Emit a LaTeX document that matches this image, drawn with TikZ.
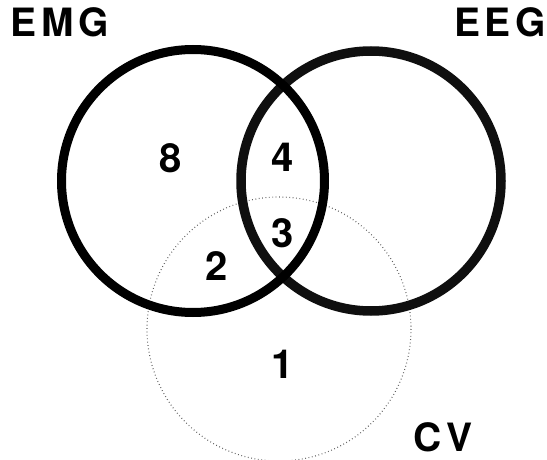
\documentclass[tikz,border=0pt]{standalone}
\usepackage{fontspec}
\setmainfont{TeX Gyre Heros}
\newfontfamily\setfont[LetterSpace=12]{TeX Gyre Heros}
\usetikzlibrary{calc}
\definecolor{venndark}{RGB}{15,15,15}
\definecolor{venngrey}{RGB}{95,95,95}

\tikzset{
  setline/.style={line width=9pt},
  setname/.style={font=\setfont\bfseries\fontsize{39}{39}\selectfont},
  count/.style={font=\bfseries\fontsize{40}{40}\selectfont}
}

\begin{document}
\begin{tikzpicture}[x=1pt,y=-1pt]
  \useasboundingbox (0,0) rectangle (547,460);
  \coordinate (M) at (193,181);
  \coordinate (E) at (371,181);
  \coordinate (V) at (279,329);

  \draw[venngrey,line width=1.1pt,dash pattern=on 0.8pt off 2.6pt] (V) circle[radius=132];
  \draw[venndark,setline,line width=9.5pt] (E) circle[radius=130];
  \draw[black,setline] (M) circle[radius=131.5];

  \node[setname] (emg) at (60,22) {EMG};
  \node[setname] (eeg) at (500,22) {EEG};
  \node[setname] (cv) at (443,437) {CV};

  \node[count] (n8) at (171,158) {8};
  \node[count] (n4) at (283,157) {4};
  \node[count] (n3) at (283,233) {3};
  \node[count] (n2) at (217,266) {2};
  \node[count] (n1) at (283,364) {1};
\end{tikzpicture}
\end{document}
